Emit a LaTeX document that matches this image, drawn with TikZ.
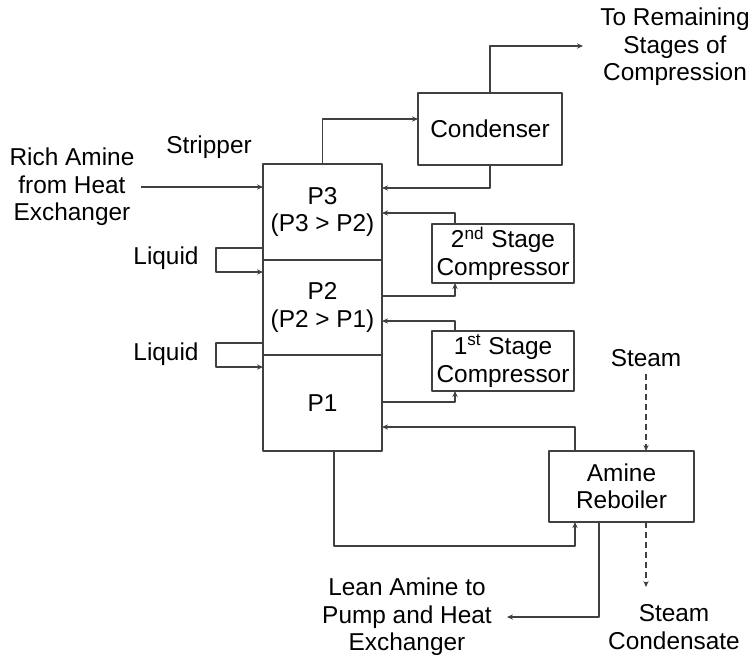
\documentclass[tikz,border=0pt]{standalone}
\usepackage{fontspec}
\setmainfont{Liberation Sans}
\usetikzlibrary{positioning,calc,arrows.meta}
\tikzset{
  unit/.style={draw=black!75, line width=0.6pt, outer sep=0pt, inner sep=0pt, align=center},
  stage/.style={unit, minimum width=59.5pt, minimum height=48pt},
  flow/.style={draw=black!75, line width=0.6pt, ->},
  steamflow/.style={flow, dashed, dash pattern=on 3pt off 2pt},
  label/.style={align=center}
}
\begin{document}
\begin{tikzpicture}[x=0.5pt, y=-0.5pt, >={Stealth[length=3pt,width=2.6pt]}, font=\fontsize{12.2}{13.7}\selectfont, line join=round]
	\useasboundingbox (0,0) rectangle (754,661);
	% stripper column
	\node[stage] (p3) at (322.5,212) {P3\\(P3 > P2)};
	\node[stage, minimum height=47.5pt, below=0pt of p3] (p2) {P2\\(P2 > P1)};
	\node[stage, below=0pt of p2] (p1) {P1};
	\node[label] (strip) at (209,147) {Stripper};
	% units
	\node[unit, minimum width=72pt, minimum height=36pt] (cond) at (490,129) {Condenser};
	\node[unit, minimum width=71pt, minimum height=29.5pt] (comp2) at (503,253.5) {2\textsuperscript{nd} Stage\\Compressor};
	\node[unit, minimum width=71pt, minimum height=30pt] (comp1) at (503,361) {1\textsuperscript{st} Stage\\Compressor};
	\node[unit, minimum width=72.5pt, minimum height=35.5pt] (reb) at (621.5,486.5) {Amine\\Reboiler};
	% streams
	\node[label] (rich) at (72,187) {Rich Amine\\from Heat\\Exchanger};
	\node[label] (liq3) at (166,258) {Liquid};
	\node[label] (liq2) at (166,354) {Liquid};
	\node[label] (rest) at (675,47) {To Remaining\\Stages of\\Compression};
	\node[label] (lean) at (407,617) {Lean Amine to\\Pump and Heat\\Exchanger};
	\node[label] (steam) at (646,358) {Steam};
	\node[label] (cnd) at (674,627) {Steam\\Condensate};
	\coordinate (out) at (583,46);
	\coordinate (leanout) at (507,617);
	\coordinate (rin) at ($(reb.south)+(-46.5,0)$);

	\draw[flow] (rich.east) -- (rich.east -| p3.west);
	\draw[flow] (p3.north) |- ($(cond.west)+(0,-10)$);
	\draw[flow] (cond.south) |- (p3.east |- 0,188);
	\draw[flow] (cond.north) |- (out);
	\draw[flow] ($(comp2.north)+(-48,0)$) |- (p3.east |- 0,213);
	\draw[flow] (p2.east |- 0,296) -| ($(comp2.south)+(-48,0)$);
	\draw[flow] ($(comp1.north)+(-48,0)$) |- (p2.east |- 0,321);
	\draw[flow] (p1.east |- 0,402) -| ($(comp1.south)+(-48,0)$);
	\draw[flow] (p3.west |- 0,248) -- ++(-47,0) |- (p2.west |- 0,272);
	\draw[flow] (p2.west |- 0,343) -- ++(-47,0) |- (p1.west |- 0,367);
	\draw[flow] ($(reb.north)+(-46.5,0)$) |- (p1.east |- 0,427);
	\draw[flow] ($(p1.south)+(11.5,0)$) |- (rin |- 0,546) -- (rin);
	\draw[flow] ($(reb.south)+(-22.5,0)$) |- (leanout);
	\draw[steamflow] (steam.south) -- (steam.south |- reb.north);
	\draw[steamflow] (steam.south |- reb.south) -- (steam.south |- 0,587);
\end{tikzpicture}
\end{document}
